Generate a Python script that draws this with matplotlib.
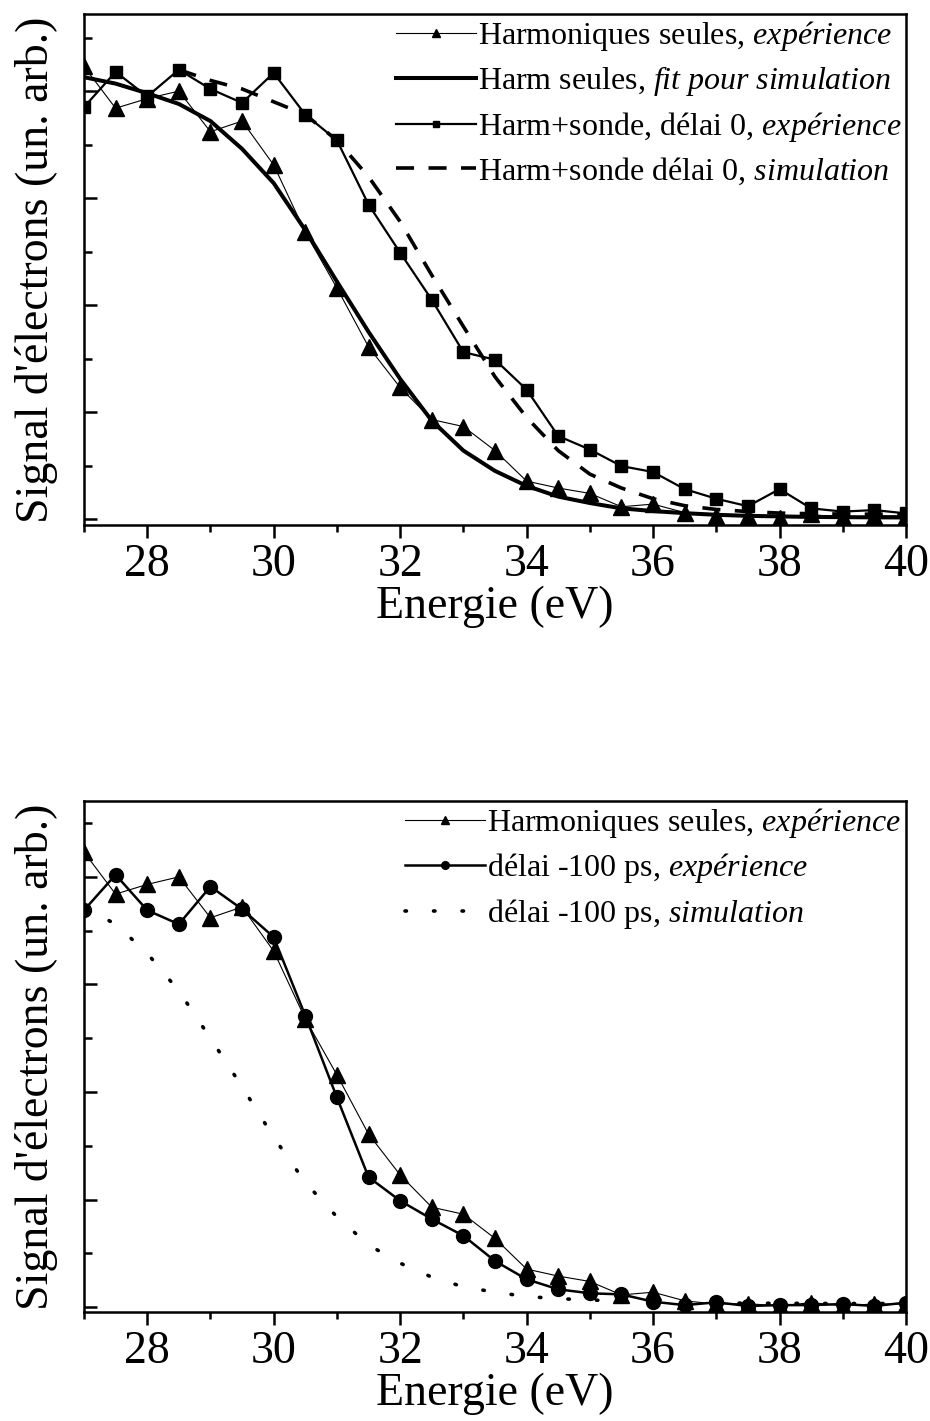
import matplotlib
matplotlib.use('Agg')
import matplotlib.pyplot as plt
import numpy as np

plt.rcParams['font.family'] = ['Liberation Serif', 'DejaVu Serif']
plt.rcParams['mathtext.fontset'] = 'custom'
plt.rcParams['mathtext.rm'] = 'Liberation Serif'
plt.rcParams['mathtext.it'] = 'Liberation Serif:italic'

# Energie (eV), pas de 0.5
energie = np.arange(27, 40.01, 0.5)

# Harmoniques seules, expérience
harm_exp = [4.23, 3.84, 3.93, 4.00, 3.62, 3.72, 3.31, 2.68, 2.16, 1.61, 1.23,
            0.93, 0.865, 0.64, 0.355, 0.29, 0.24, 0.115, 0.14, 0.06, 0.03,
            0.033, 0.013, 0.043, 0.015, 0.03, 0.03]
# Harm seules, fit pour simulation
harm_fit = [4.13, 4.07, 3.98, 3.88, 3.72, 3.46, 3.14, 2.70, 2.22, 1.75, 1.31,
            0.92, 0.64, 0.45, 0.31, 0.21, 0.15, 0.10, 0.075, 0.055, 0.04,
            0.03, 0.025, 0.02, 0.018, 0.016, 0.015]
# Harm+sonde délai 0, expérience
sonde_exp = [3.85, 4.18, 3.95, 4.20, 4.02, 3.89, 4.17, 3.78, 3.54, 2.94, 2.49,
             2.05, 1.56, 1.49, 1.21, 0.776, 0.65, 0.495, 0.44, 0.28, 0.19,
             0.12, 0.28, 0.10, 0.07, 0.084, 0.053]
# Harm+sonde délai 0, simulation (commence à 28.5 eV)
energie_sim0 = np.arange(28.5, 40.01, 0.5)
sonde_sim = [4.20, 4.10, 4.02, 3.90, 3.78, 3.54, 3.20, 2.78, 2.28, 1.80, 1.33,
             0.95, 0.64, 0.42, 0.29, 0.19, 0.125, 0.09, 0.07, 0.056, 0.05,
             0.047, 0.045, 0.045]
# délai -100 ps, expérience
delai_exp = [3.69, 4.02, 3.69, 3.56, 3.91, 3.70, 3.44, 2.71, 1.95, 1.21, 0.99,
             0.82, 0.665, 0.43, 0.26, 0.167, 0.13, 0.12, 0.052, 0.02, 0.046,
             0.012, 0.02, 0.02, 0.03, 0.012, 0.043]
# délai -100 ps, simulation
delai_sim = [3.72, 3.56, 3.29, 2.94, 2.50, 2.05, 1.58, 1.16, 0.84, 0.58, 0.41,
             0.28, 0.19, 0.14, 0.10, 0.08, 0.068, 0.058, 0.05, 0.045, 0.04,
             0.038, 0.037, 0.036, 0.035, 0.035, 0.035]

fig = plt.figure(figsize=(9.3, 14.21), dpi=100)
ax1 = fig.add_axes([0.0903, 0.6305, 0.8839, 0.3596])
ax2 = fig.add_axes([0.0903, 0.0767, 0.8839, 0.3596])


def style_axes(ax, ylim):
    ax.set_xlim(27, 40)
    ax.set_ylim(*ylim)
    ax.set_xticks(np.arange(28, 41, 2))
    ax.set_xticks(np.arange(27, 41, 1), minor=True)
    ax.set_yticks(np.arange(0, 5, 1))
    ax.set_yticks(np.arange(0.5, 4.6, 1), minor=True)
    ax.set_yticklabels([])
    ax.tick_params(axis='x', which='major', direction='out', length=9, width=1.8,
                   labelsize=33, pad=4)
    ax.tick_params(axis='x', which='minor', direction='out', length=5, width=1.8)
    ax.tick_params(axis='y', which='major', direction='in', length=9, width=1.8)
    ax.tick_params(axis='y', which='minor', direction='in', length=6, width=1.8)
    for sp in ax.spines.values():
        sp.set_linewidth(1.8)
    ax.set_xlabel('Energie (eV)', fontsize=33, labelpad=0)
    ax.set_ylabel("Signal d'électrons (un. arb.)", fontsize=33, labelpad=15)


legend_opts = dict(loc='upper right', frameon=False, fontsize=23, markerscale=0.55,
                   handlelength=2.5, handletextpad=0.05, labelspacing=0.36,
                   borderaxespad=0.0, borderpad=0.15)

# Graphique du haut
ax1.plot(energie, harm_exp, '^-', color='black', linewidth=0.8, markersize=11,
         label=r'Harmoniques seules, $\mathit{expérience}$')
ax1.plot(energie, harm_fit, '-', color='black', linewidth=2.9,
         label=r'Harm seules, $\mathit{fit\ pour\ simulation}$')
ax1.plot(energie, sonde_exp, 's-', color='black', linewidth=1.6, markersize=9,
         label=r'Harm+sonde, délai 0, $\mathit{expérience}$')
ax1.plot(energie_sim0, sonde_sim, '--', color='black', linewidth=2.6,
         dashes=(5, 4), label=r'Harm+sonde délai 0, $\mathit{simulation}$')
style_axes(ax1, (-0.056, 4.72))
ax1.legend(**legend_opts)

# Graphique du bas
ax2.plot(energie, harm_exp, '^-', color='black', linewidth=0.8, markersize=11,
         label=r'Harmoniques seules, $\mathit{expérience}$')
ax2.plot(energie, delai_exp, 'o-', color='black', linewidth=1.8, markersize=10,
         label=r'délai -100 ps, $\mathit{expérience}$')
ax2.plot(energie, delai_sim, color='black', linewidth=2.6, linestyle=(0, (0.4, 7.5)),
         dash_capstyle='round', label=r'délai -100 ps, $\mathit{simulation}$')
style_axes(ax2, (-0.044, 4.705))
ax2.legend(**legend_opts)

plt.savefig('out.png', dpi=100)
plt.close()
